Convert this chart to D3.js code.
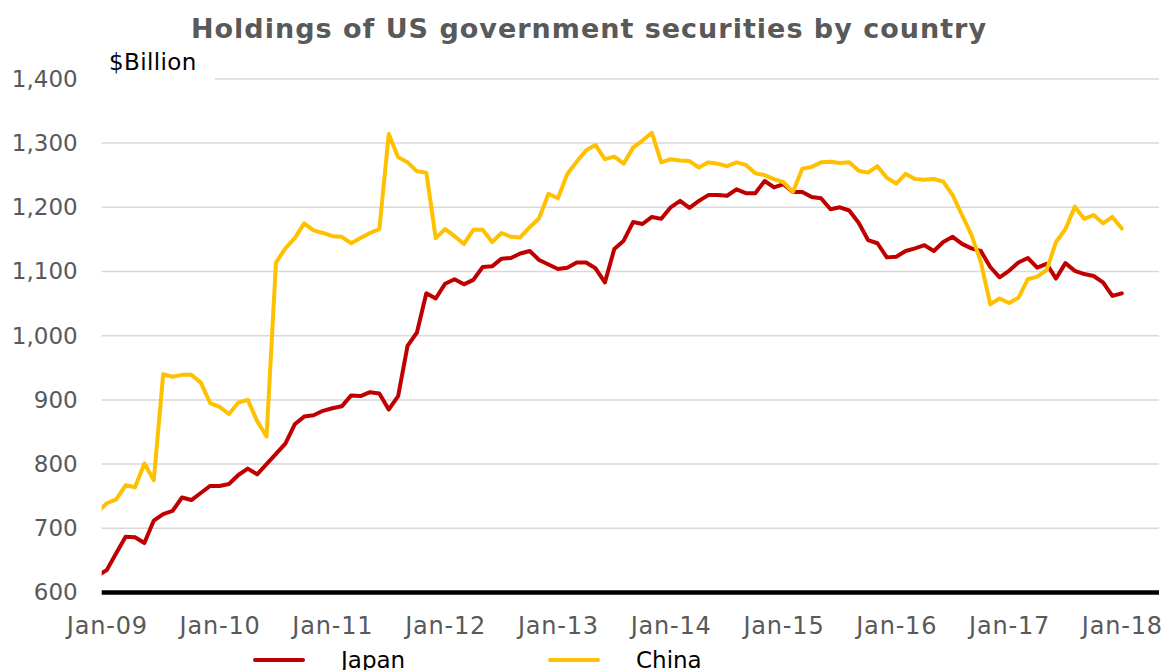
<!DOCTYPE html>
<html>
<head>
<meta charset="utf-8">
<script src="https://cdn.jsdelivr.net/npm/d3@7/dist/d3.min.js"></script>
<style>
  html, body { margin: 0; padding: 0; background: #ffffff; }
  svg { display: block; }
  text { font-family: "DejaVu Sans", Verdana, sans-serif; }
</style>
</head>
<body>
<svg id="chart" width="1171" height="670"></svg>
<script>
// Monthly holdings, $ billion, Dec-08 through Jan-18
const firstMonth = new Date(2008, 11, 1);
const lastMonth = new Date(2018, 0, 1);

const japan = [
  626, 635, 661, 687, 686, 677, 712, 722, 727, 748, 744, 755, 766,
  766, 769, 783, 793, 784, 800, 816, 832, 862, 874, 876, 883,
  887, 890, 907, 906, 912, 910, 885, 906, 984, 1005, 1066, 1058,
  1081, 1088, 1080, 1087, 1107, 1108, 1120, 1121, 1128, 1132, 1118, 1111,
  1104, 1106, 1114, 1114, 1105, 1083, 1135, 1148, 1177, 1174, 1185, 1182,
  1200, 1210, 1199, 1210, 1219, 1219, 1218, 1228, 1222, 1222, 1241, 1231,
  1236, 1224, 1224, 1216, 1214, 1197, 1200, 1195, 1176, 1149, 1144, 1122,
  1123, 1132, 1136, 1141, 1132, 1146, 1154, 1143, 1136, 1132, 1107, 1091,
  1101, 1114, 1121, 1106, 1112, 1089, 1113, 1101, 1096, 1093, 1083, 1062,
  1066
];

const china = [
  725, 739, 745, 767, 764, 801, 775, 940, 936, 939, 939, 927, 895,
  889, 878, 896, 900, 867, 843, 1114, 1136, 1152, 1175, 1164, 1160,
  1155, 1154, 1144, 1152, 1160, 1166, 1314, 1278, 1270, 1256, 1254, 1152,
  1166, 1155, 1143, 1165, 1165, 1146, 1160, 1154, 1153, 1169, 1183, 1221,
  1214, 1252, 1271, 1289, 1297, 1275, 1279, 1268, 1293, 1304, 1316, 1270,
  1275, 1273, 1272, 1262, 1270, 1268, 1264, 1270, 1266, 1253, 1250, 1244,
  1239, 1224, 1260, 1263, 1270, 1271, 1269, 1270, 1257, 1254, 1264, 1246,
  1237, 1252, 1244, 1243, 1244, 1240, 1219, 1188, 1157, 1115, 1049, 1058,
  1051, 1059, 1088, 1092, 1102, 1146, 1166, 1201, 1182, 1188, 1175, 1185,
  1167
];

const seriesNames = ["Japan", "China"];
const seriesColors = ["#c00000", "#ffc000"];

const xTickLabels = ["Jan-09", "Jan-10", "Jan-11", "Jan-12", "Jan-13",
                     "Jan-14", "Jan-15", "Jan-16", "Jan-17", "Jan-18"];
const yTicks = [600, 700, 800, 900, 1000, 1100, 1200, 1300, 1400];

// Month categories
const fmtMonth = d3.timeFormat("%b-%y");
const months = d3.timeMonth.range(firstMonth, d3.timeMonth.offset(lastMonth, 1)).map(fmtMonth);

const svg = d3.select("#chart");

const plot = { left: 101.7, right: 1159, top: 78.9, bottom: 592.5 };

// Monthly positions: evenly spaced categories, Jan-09 to Jan-18
const i0 = months.indexOf("Jan-09");
const i1 = months.indexOf("Jan-18");
const x = d3.scaleLinear().domain([i0, i1]).range([106.8, 1121.8]);
const y = d3.scaleLinear().domain([600, 1400]).range([plot.bottom, plot.top]);

// Title
svg.append("text")
  .attr("x", 589).attr("y", 38)
  .attr("text-anchor", "middle")
  .attr("font-size", 27).attr("font-weight", "bold")
  .attr("letter-spacing", 1)
  .attr("fill", "#595959")
  .text("Holdings of US government securities by country");

// Horizontal gridlines
svg.append("g")
  .selectAll("line")
  .data(yTicks.filter(v => v > 600))
  .join("line")
  .attr("x1", plot.left).attr("x2", plot.right)
  .attr("y1", d => y(d)).attr("y2", d => y(d))
  .attr("stroke", "#d9d9d9").attr("stroke-width", 1.5);

// Y axis labels
const yAxis = svg.append("g")
  .attr("transform", `translate(${plot.left},0)`)
  .call(d3.axisLeft(y).tickValues(yTicks).tickFormat(d3.format(",")).tickSize(0).tickPadding(24));
yAxis.select(".domain").remove();
yAxis.selectAll("text")
  .attr("font-family", "DejaVu Sans, Verdana, sans-serif")
  .attr("font-size", 23).attr("fill", "#595959");

// Unit label with its white box
svg.append("rect")
  .attr("x", 100).attr("y", 48).attr("width", 115).attr("height", 36)
  .attr("fill", "#ffffff");
svg.append("text")
  .attr("x", 109).attr("y", 70)
  .attr("font-size", 23).attr("letter-spacing", 0.4).attr("fill", "#000000")
  .text("$Billion");

// X axis labels
const xAxis = svg.append("g")
  .attr("transform", `translate(0,${plot.bottom})`)
  .call(d3.axisBottom(x)
    .tickValues(xTickLabels.map(l => months.indexOf(l)))
    .tickFormat(i => months[i])
    .tickSize(0));
xAxis.select(".domain").remove();
xAxis.selectAll("text")
  .attr("y", 41).attr("dy", null)
  .attr("font-family", "DejaVu Sans, Verdana, sans-serif")
  .attr("font-size", 24).attr("letter-spacing", 0.8).attr("fill", "#595959");

// Clip for the series lines
svg.append("clipPath").attr("id", "plot-clip")
  .append("rect")
  .attr("x", plot.left).attr("y", 40)
  .attr("width", plot.right - plot.left).attr("height", plot.bottom - 40);

const line = d3.line()
  .x((d, i) => x(i))
  .y(d => y(d));

const seriesData = [japan, china];
svg.append("g").attr("clip-path", "url(#plot-clip)")
  .selectAll("path")
  .data(seriesData)
  .join("path")
  .attr("d", d => line(d))
  .attr("fill", "none")
  .attr("stroke", (d, i) => seriesColors[i])
  .attr("stroke-width", 4)
  .attr("stroke-linejoin", "round")
  .attr("stroke-linecap", "round");

// Baseline axis
svg.append("line")
  .attr("x1", plot.left).attr("x2", plot.right)
  .attr("y1", y(600)).attr("y2", y(600))
  .attr("stroke", "#000000").attr("stroke-width", 4.5);

// Legend
const legendX = [255, 550];
const legend = svg.append("g");
seriesNames.forEach((name, i) => {
  legend.append("line")
    .attr("x1", legendX[i]).attr("x2", legendX[i] + 48)
    .attr("y1", 660).attr("y2", 660)
    .attr("stroke", seriesColors[i]).attr("stroke-width", 4)
    .attr("stroke-linecap", "round");
  legend.append("text")
    .attr("x", legendX[i] + 86).attr("y", 668)
    .attr("font-size", 23).attr("fill", "#000000")
    .text(name);
});
</script>
</body>
</html>
